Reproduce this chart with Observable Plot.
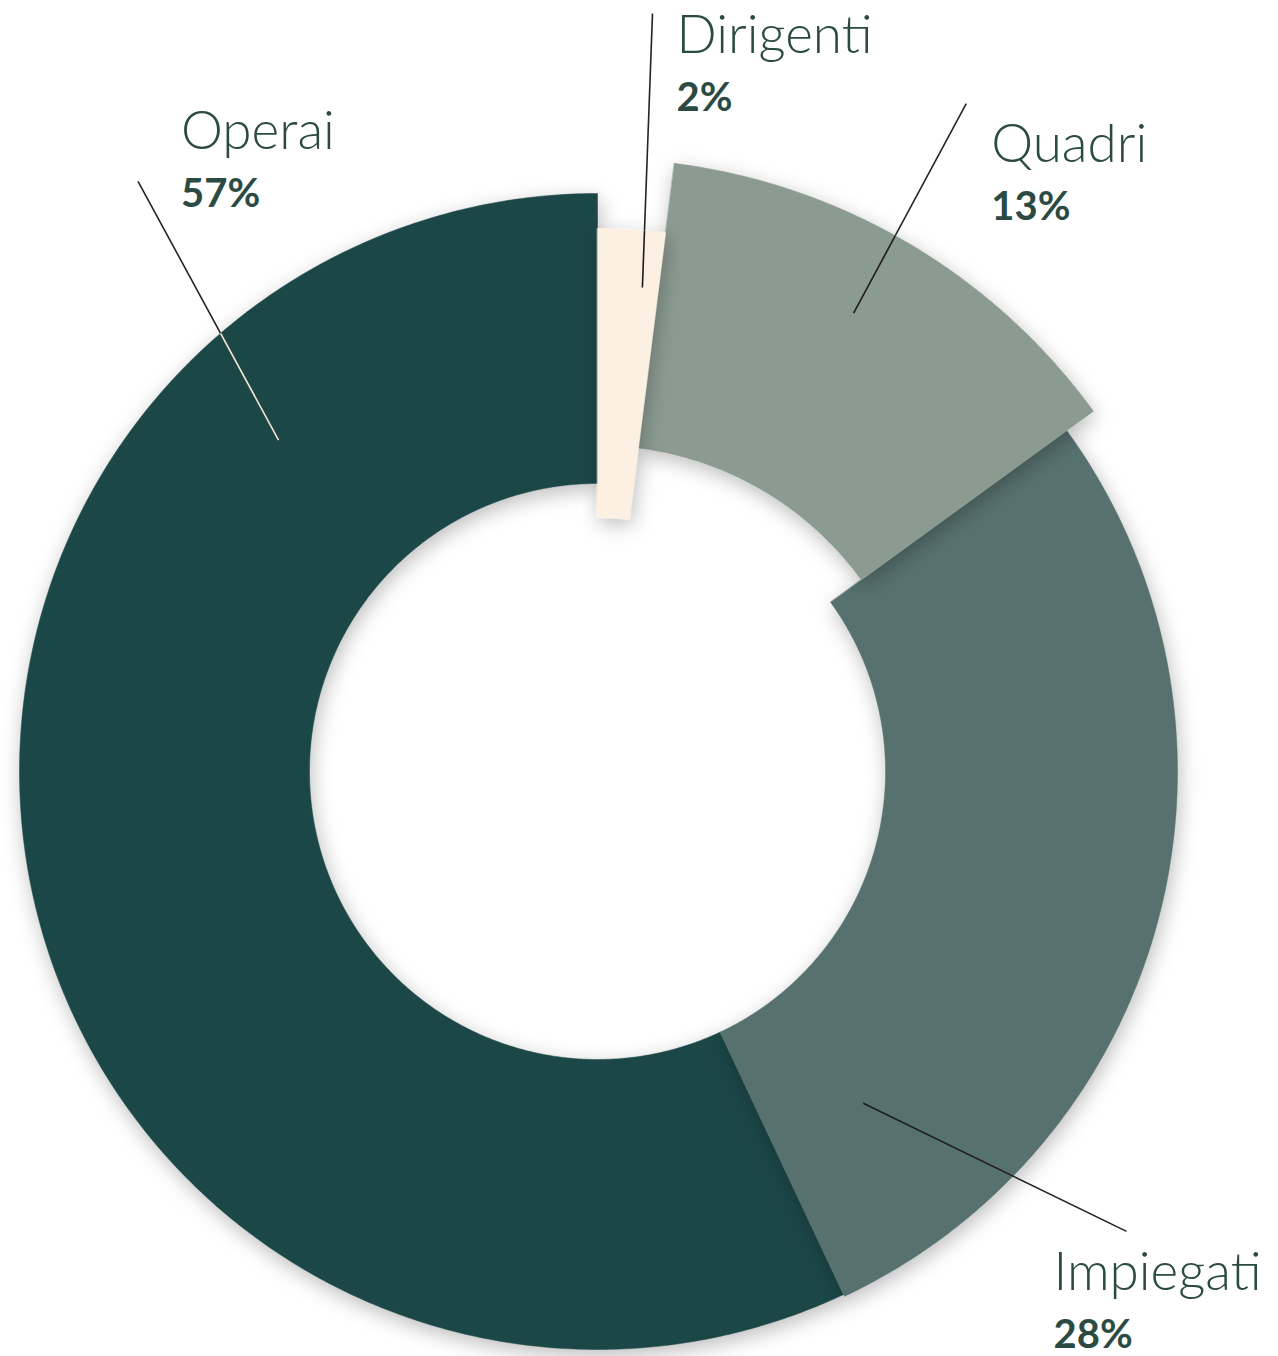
<!DOCTYPE html>
<html>
<head>
<meta charset="utf-8">
<script src="https://cdn.jsdelivr.net/npm/d3@7"></script>
<script src="https://cdn.jsdelivr.net/npm/@observablehq/plot@0.6"></script>
<style>
  html, body { margin: 0; padding: 0; background: #ffffff; }
  #chart { width: 1278px; height: 1356px; overflow: hidden; }
</style>
</head>
<body>
<div id="chart"></div>
<script>
// ---- data ----
const categories = ["Dirigenti", "Quadri", "Impiegati", "Operai"];
const shares = [2, 13, 28, 57];
const shareLabels = ["2%", "13%", "28%", "57%"];

// ---- layout / style (not data) ----
const W = 1278, H = 1356;
const CX = 597, CY = 771;                       // donut centre on the page
const fills = ["#fbf0e2", "#8b9b91", "#57716e", "#1f4746"];
const ringInner = [254, 326, 288, 288];
const ringOuter = [543, 613, 580, 578];
const explode = [0, 0, 0, 0];
const drawOrder = [3, 2, 1, 0];
// leader lines in polar terms [angle°, radius]
const leaderOuter = [[4.15, 760], [28.9, 763], [131, 701], [322.1, 748]];
const leaderInner = [[5.3, 486], [29.2, 525], [141.3, 425], [316.1, 460]];
const labelOffset = [[24, 40], [25, 58], [-73, 59], [43, -32]];
const leaderOutColor = "#1f2725";
const leaderInColor = ["#1d1d1b", "#1d1d1b", "#1d1d1b", "#f3e7d3"];
const textColor = "#2b4a43";
const lineGap = 58;

// ---- geometry from data ----
const pie = d3.pie().sort(null).value(d => d)(shares);
const rad = d => d * Math.PI / 180;
const pol = ([deg, r]) => ({x: r * Math.sin(rad(deg)), y: r * Math.cos(rad(deg))});

function sliceInfo(i) {
  const {startAngle: a0, endAngle: a1} = pie[i];
  const mid = (a0 + a1) / 2;
  return {a0, a1, ox: explode[i] * Math.sin(mid), oy: explode[i] * Math.cos(mid)};
}

function slicePoints(i) {
  const {a0, a1, ox, oy} = sliceInfo(i);
  const n = Math.max(6, Math.ceil((a1 - a0) / (Math.PI / 360)));
  const pts = [];
  for (let k = 0; k <= n; k++) {
    const a = a0 + (a1 - a0) * k / n;
    pts.push({cat: categories[i], x: ox + ringOuter[i] * Math.sin(a), y: oy + ringOuter[i] * Math.cos(a)});
  }
  for (let k = n; k >= 0; k--) {
    const a = a0 + (a1 - a0) * k / n;
    pts.push({cat: categories[i], x: ox + ringInner[i] * Math.sin(a), y: oy + ringInner[i] * Math.cos(a)});
  }
  return pts;
}

// leader segments, split where they enter the slice
const outerSegs = [], innerSegs = [];
categories.forEach((c, i) => {
  const p1 = pol(leaderOuter[i]), p2 = pol(leaderInner[i]);
  const {ox, oy} = sliceInfo(i);
  const dx = p2.x - p1.x, dy = p2.y - p1.y;
  const fx = p1.x - ox, fy = p1.y - oy;
  const A = dx * dx + dy * dy, B = 2 * (fx * dx + fy * dy), C = fx * fx + fy * fy - ringOuter[i] ** 2;
  const disc = B * B - 4 * A * C;
  let t = 1;
  if (disc >= 0) { const tt = (-B - Math.sqrt(disc)) / (2 * A); if (tt >= 0 && tt <= 1) t = tt; }
  const m = {x: p1.x + t * dx, y: p1.y + t * dy};
  outerSegs.push({cat: c, x1: p1.x, y1: p1.y, x2: m.x, y2: m.y});
  innerSegs.push({cat: c, x1: m.x, y1: m.y, x2: p2.x, y2: p2.y, color: leaderInColor[i]});
});

const labels = categories.map((c, i) => {
  const a = pol(leaderOuter[i]);
  return {cat: c, pct: shareLabels[i], x: a.x + labelOffset[i][0], y: a.y - labelOffset[i][1]};
});

const marks = [];
for (const i of drawOrder) {
  marks.push(Plot.line(slicePoints(i), {
    x: "x", y: "y", fill: fills[i], stroke: fills[i], strokeWidth: 0.5, curve: "linear-closed"
  }));
}
marks.push(Plot.link(outerSegs, {x1: "x1", y1: "y1", x2: "x2", y2: "y2", stroke: leaderOutColor, strokeWidth: 1.6}));
for (const col of new Set(leaderInColor)) {
  marks.push(Plot.link(innerSegs.filter(d => d.color === col), {x1: "x1", y1: "y1", x2: "x2", y2: "y2", stroke: col, strokeWidth: 1.6}));
}
marks.push(Plot.text(labels, {
  x: "x", y: "y", text: "cat", textAnchor: "start", lineAnchor: "bottom",
  fill: textColor, fontFamily: "Lato", fontWeight: 300, fontSize: 53
}));
marks.push(Plot.text(labels, {
  x: "x", y: d => d.y - lineGap, text: "pct", textAnchor: "start", lineAnchor: "bottom",
  fill: textColor, fontFamily: "Lato", fontWeight: 700, fontSize: 40
}));

const chart = Plot.plot({
  width: W, height: H,
  marginTop: 0, marginRight: 0, marginBottom: 0, marginLeft: 0,
  x: {domain: [-CX, W - CX], range: [0, W], axis: null},
  y: {domain: [-(H - CY), CY], range: [H, 0], axis: null},
  style: {background: "#ffffff", overflow: "visible"},
  marks
});

// soft drop shadow under the slices (SVG filter)
const svg = d3.select(chart);
const defs = svg.insert("defs", ":first-child");
const f = defs.append("filter").attr("id", "sliceShadow")
  .attr("x", "-20%").attr("y", "-20%").attr("width", "140%").attr("height", "140%");
f.append("feDropShadow").attr("dx", 2).attr("dy", 6).attr("stdDeviation", 10)
  .attr("flood-color", "#000000").attr("flood-opacity", 0.26);
svg.selectAll('g[aria-label="line"]').attr("filter", "url(#sliceShadow)");

document.getElementById("chart").appendChild(chart);
</script>
</body>
</html>
